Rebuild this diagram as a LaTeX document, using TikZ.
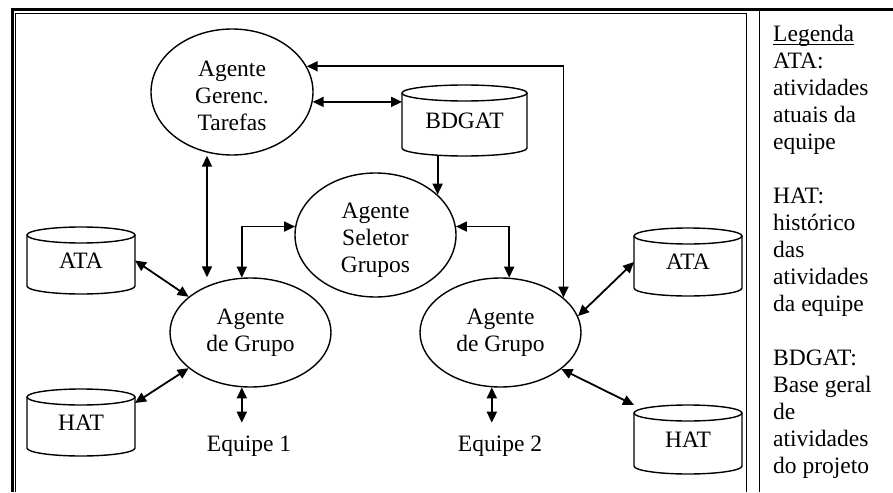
\documentclass[tikz,border=0pt]{standalone}
\usepackage{fontspec}
\setmainfont{Liberation Serif}
\usetikzlibrary{arrows.meta,calc,shapes.geometric}
\newsavebox\legbox
\newcommand\legul[1]{\sbox\legbox{#1}\rlap{\rule[-3.5pt]{\wd\legbox}{1.5pt}}\usebox\legbox}
\newcommand\dbshape[2]{%
  \draw[shp] ($(#1.north)+(0,8)$) ellipse[x radius=#2pt, y radius=8pt];
  \draw[shp] ($(#1.north west)+(0,8)$) -- ($(#1.south west)+(0,-8)$)
     arc[start angle=180, end angle=360, x radius=#2pt, y radius=8pt]
     -- ($(#1.north east)+(0,8)$);}
\begin{document}
\begin{tikzpicture}[x=1pt,y=-1pt,
  every node/.style={font=\fontsize{23.5}{27}\selectfont},
  ell/.style={ellipse,draw,line width=1.4pt,inner sep=0pt,align=center},
  db/.style={rectangle,inner sep=0pt,outer sep=0pt,minimum width=108pt,minimum height=67pt},
  shp/.style={line width=1.4pt},
  tip/.tip={Triangle[length=11pt,width=10pt]},
  conn/.style={line width=1.8pt,tip-tip},
  one/.style={line width=1.8pt,-tip},
  eq/.style={inner sep=2pt,outer sep=11pt}]
\useasboundingbox (0,0) rectangle (893,492);
% frame
\draw[line width=3pt,line join=miter] (12.5,492) -- (12.5,9.5) -- (893,9.5);
\draw[line width=0.8pt] (15.5,492) -- (15.5,13.5) -- (746.5,13.5) -- (746.5,492);
\draw[line width=1.2pt] (759.5,9.5) -- (759.5,492);
% agents
\node[ell,minimum width=162pt,minimum height=126pt] (ger) at (232,92) {\rule{0pt}{24pt}Agente\\Gerenc.\\Tarefas};
\node[ell,minimum width=161pt,minimum height=124pt] (sel) at (375.5,235) {\rule{0pt}{25pt}Agente\\Seletor\\Grupos};
\node[ell,minimum width=161pt,minimum height=109pt] (g1) at (250.5,332.5) {Agente\\de Grupo};
\node[ell,minimum width=161pt,minimum height=109pt] (g2) at (500.5,332.5) {Agente\\de Grupo};
% databases
\node[db,minimum width=125pt,minimum height=71pt] (bdgat) at (464.5,120.5) {BDGAT};
\node[db] (ata1) at (81,260.5) {ATA};
\node[db] (hat1) at (81,422.5) {HAT};
\node[db,minimum height=68pt] (ata2) at (688,262) {ATA};
\node[db,minimum height=69pt] (hat2) at (688,439.5) {HAT};
\dbshape{bdgat}{62.5}
\dbshape{ata1}{54}
\dbshape{hat1}{54}
\dbshape{ata2}{54}
\dbshape{hat2}{54}
% teams
\node[eq] (eq1) at (249,446) {Equipe 1};
\node[eq] (eq2) at (500,446) {Equipe 2};
% connectors
\draw[conn] (ger.-7) -- (ger.-7 -| bdgat.west);
\draw[conn] (ger.19) -| (g2.29);
\draw[one] (bdgat.south -| sel.33) -- (sel.33);
\draw[conn] ([xshift=-25pt]ger.south) -- ([xshift=-43.5pt]g1.north);
\draw[conn] (sel.174) -| (g1.99);
\draw[conn] (sel.6) -| (g2.81);
\draw[conn] (ata1.east) -- (g1.150);
\draw[conn] ([yshift=-14pt]hat1.north east) -- (g1.210);
\draw[conn] (g2.12) -- (ata2.west);
\draw[conn] (g2.-31) -- (hat2.north west);
\draw[conn] (g1.261) -- (g1.261 |- eq1.north);
\draw[conn] (g2.261) -- (g2.261 |- eq2.north);
% legend
\node[anchor=north west,inner sep=0pt,align=left] (leg) at (773,25)
  {\legul{Legenda}\\ATA:\\atividades\\atuais da\\equipe\\[27pt]HAT:\\histórico\\das\\atividades\\da equipe\\[27pt]BDGAT:\\Base geral\\de\\atividades\\do projeto};
\end{tikzpicture}
\end{document}
